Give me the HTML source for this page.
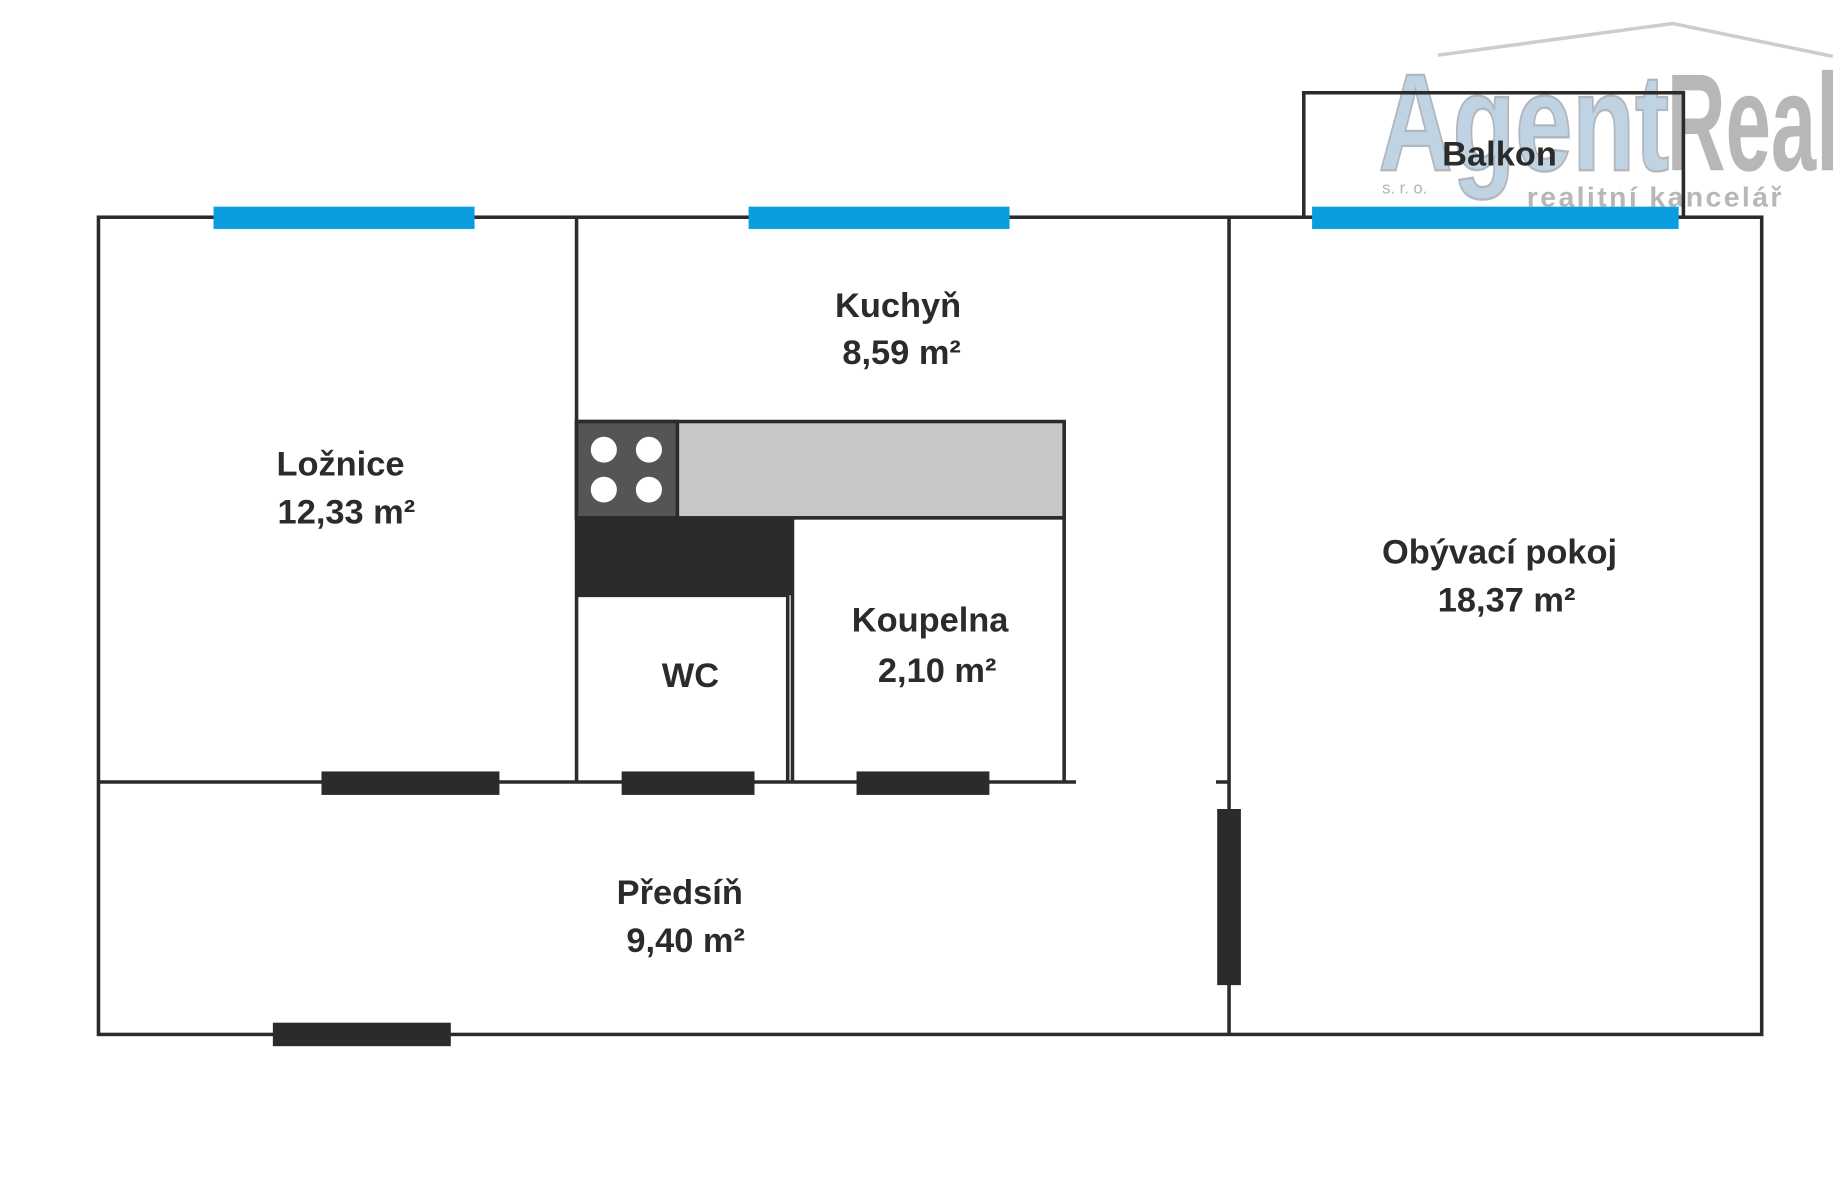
<!DOCTYPE html>
<html><head><meta charset="utf-8"><style>
html,body{margin:0;padding:0;background:#fff;width:1840px;height:1200px;overflow:hidden}
svg{display:block}
text{font-family:"Liberation Sans",sans-serif;font-weight:bold;fill:#2b2b2b}
</style></head><body>
<svg width="1840" height="1200" viewBox="0 0 1551 1022" preserveAspectRatio="none">
<!-- watermark -->
<g opacity="0.9">
<polyline points="1212,47 1410,20 1545,48" fill="none" stroke="#c8c8c8" stroke-width="3"/>
<text x="1162" y="145" font-size="118" style="font-family:'Liberation Sans Narrow','Liberation Sans',sans-serif;fill:#b9cfe0;stroke:#a8b0b8;stroke-width:2" textLength="245" lengthAdjust="spacingAndGlyphs">Agent</text>
<text x="1405" y="145" font-size="118" style="font-family:'Liberation Sans Narrow','Liberation Sans',sans-serif;fill:#b0b0b0" textLength="145" lengthAdjust="spacingAndGlyphs">Real</text>
<text x="1165" y="165" font-size="14" style="fill:#aaa;font-weight:normal">s. r. o.</text>
<text x="1287" y="176" font-size="24" style="fill:#b0b0b0;letter-spacing:2px">realitní kancelář</text>
</g>
<g fill="none" stroke="#2b2b2b" stroke-width="3">
<rect x="1099" y="79" width="320" height="106"/>
<rect x="83" y="185" width="1402" height="696"/>
<line x1="486" y1="185" x2="486" y2="666"/>
<line x1="1036" y1="185" x2="1036" y2="881"/>
<line x1="83" y1="666" x2="907" y2="666"/>
<line x1="1025" y1="666" x2="1036" y2="666"/>
<line x1="664" y1="507" x2="664" y2="666"/>
<line x1="668" y1="441" x2="668" y2="666"/>
<line x1="897" y1="359" x2="897" y2="666"/>
<line x1="668" y1="441" x2="897" y2="441"/>
<line x1="486" y1="507" x2="664" y2="507"/>
</g>
<!-- windows -->
<g fill="#0a9ee0">
<rect x="180" y="176" width="220" height="19"/>
<rect x="631" y="176" width="220" height="19"/>
<rect x="1106" y="176" width="309" height="19"/>
</g>
<!-- doors -->
<g fill="#2b2b2b">
<rect x="271" y="657" width="150" height="20"/>
<rect x="524" y="657" width="112" height="20"/>
<rect x="722" y="657" width="112" height="20"/>
<rect x="230" y="871" width="150" height="20"/>
<rect x="1026" y="689" width="20" height="150"/>
</g>
<!-- kitchen -->
<rect x="486" y="359" width="411" height="82" fill="#c6c7c6" stroke="#2b2b2b" stroke-width="3"/>
<rect x="486" y="359" width="85" height="82" fill="#555" stroke="#2b2b2b" stroke-width="3"/>
<rect x="486" y="441" width="181" height="66" fill="#2b2b2b"/>
<g fill="#fff"><circle cx="509" cy="383" r="11"/><circle cx="547" cy="383" r="11"/><circle cx="509" cy="417" r="11"/><circle cx="547" cy="417" r="11"/></g>
<!-- labels -->
<g font-size="29" text-anchor="middle">
<text x="1264" y="141">Balkon</text>
<text x="757" y="270">Kuchyň</text>
<text x="760" y="310">8,59 m²</text>
<text x="287" y="405">Ložnice</text>
<text x="292" y="446">12,33 m²</text>
<text x="1264" y="480">Obývací pokoj</text>
<text x="1270" y="521">18,37 m²</text>
<text x="784" y="538">Koupelna</text>
<text x="790" y="581">2,10 m²</text>
<text x="582" y="585">WC</text>
<text x="573" y="770">Předsíň</text>
<text x="578" y="811">9,40 m²</text>
</g>
</svg>
</body></html>
